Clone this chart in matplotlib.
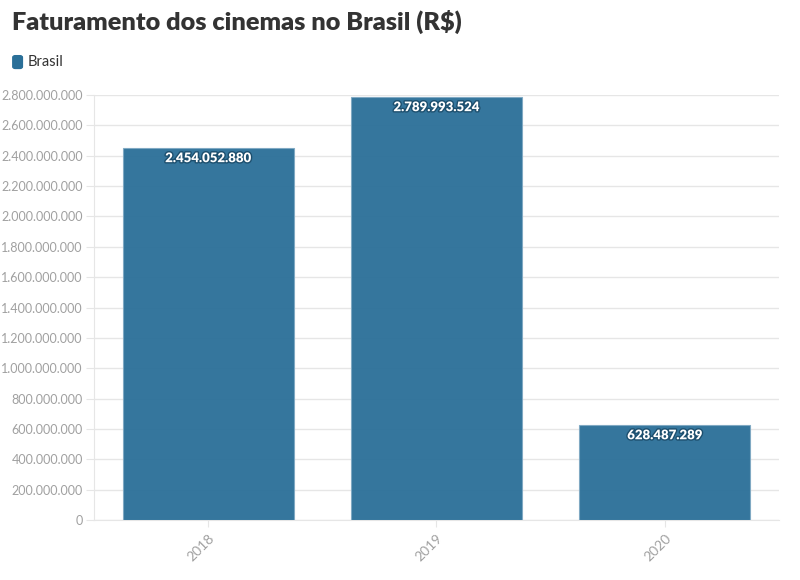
import matplotlib
matplotlib.use("Agg")
import matplotlib.pyplot as plt
import matplotlib.patheffects as pe
from matplotlib.patches import FancyBboxPatch
from matplotlib.ticker import FuncFormatter

# Data
years = ["2018", "2019", "2020"]
revenue = [2454052880, 2789993524, 628487289]
y_ticks = list(range(0, 2800000001, 200000000))

plt.rcParams['font.family'] = ['Lato', 'DejaVu Sans']

def br_fmt(v, pos=None):
    return f"{int(v):,}".replace(",", ".")

fig = plt.figure(figsize=(8, 5.8), dpi=100)
ax = fig.add_axes([0.1175, 0.1034, 0.856, 0.7328])

bar_color = "#2a6f98"
bars = ax.bar(range(len(years)), revenue, width=0.75, color=bar_color,
              alpha=0.95, edgecolor="#7fa9c3", linewidth=0.8, zorder=3)

for i, v in enumerate(revenue):
    ax.text(i, v - 0.025 * 2800000000, br_fmt(v), ha="center", va="center",
            color="white", fontsize=9.5, fontweight="heavy", zorder=4,
            path_effects=[pe.withStroke(linewidth=2, foreground="#1d4f6e")])

ax.set_xlim(-0.5, len(years) - 0.5)
ax.set_ylim(0, 2800000000)
ax.set_yticks(y_ticks)
ax.yaxis.set_major_formatter(FuncFormatter(br_fmt))
ax.set_xticks(range(len(years)))
ax.set_xticklabels(years, rotation=45, ha="right", rotation_mode="anchor")

ax.grid(axis="y", color="#e6e6e6", linewidth=1, zorder=0)
for s in ["top", "right"]:
    ax.spines[s].set_visible(False)
ax.spines["left"].set_color("#e6e6e6")
ax.spines["bottom"].set_color("#e6e6e6")
ax.tick_params(axis="y", labelsize=9, length=6, color="#e6e6e6", pad=2)
ax.tick_params(axis="x", labelsize=10, length=5, color="#e6e6e6", pad=4)
for lbl in ax.get_yticklabels() + ax.get_xticklabels():
    lbl.set_color("#a0a0a0")

fig.text(0.015, 0.962, "Faturamento dos cinemas no Brasil (R$)", fontsize=18.2,
         fontweight="heavy", color="#333333", va="center")
fig.patches.append(FancyBboxPatch((0.016, 0.882), 0.012, 0.022,
                                  boxstyle="round,pad=0,rounding_size=0.003",
                                  transform=fig.transFigure, color=bar_color))
fig.text(0.034, 0.893, "Brasil", fontsize=10.5, color="#333333", va="center")

fig.savefig("out.png", dpi=100)
